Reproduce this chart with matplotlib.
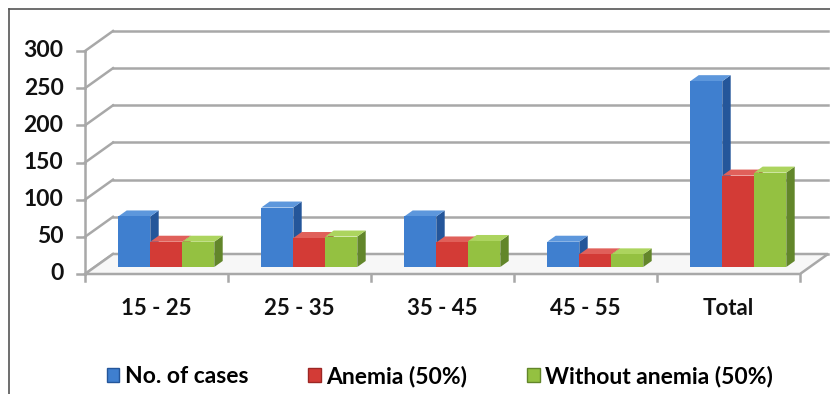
import matplotlib.pyplot as plt
from matplotlib.patches import Polygon, Patch
import numpy as np

plt.rcParams['font.family'] = ['Lato', 'DejaVu Sans']

categories = ['15 - 25', '25 - 35', '35 - 45', '45 - 55', 'Total']
series_names = ['No. of cases', 'Anemia (50%)', 'Without anemia (50%)']
cases = [68, 80, 68, 34, 250]
anemia = [34, 39, 33, 17, 123]
without_anemia = [34, 41, 35, 17, 127]
yticks = [0, 50, 100, 150, 200, 250, 300]

front_cols = ['#3f7fcf', '#d33b36', '#94c141']
side_cols = ['#24569a', '#9c2724', '#62862a']
top_cols = ['#5d97dc', '#e0605a', '#acd45e']

fig = plt.figure(figsize=(8.3, 3.94), dpi=100)
ax = fig.add_axes([85 / 830, 120 / 394, 715 / 830, 223 / 394])
ax.set_xlim(0, 5)
ax.set_ylim(0, 300)
ax.axis('off')

# oblique depth of the floor, in data units
ddx = 28 / 143
ddy = 20 / (223 / 300)
grid_col = '#a8a8a8'

# back wall gridlines and left side wall
for v in yticks:
    ax.plot([ddx, 5 + ddx], [v + ddy, v + ddy], color=grid_col, lw=1.8, clip_on=False, zorder=1)
    ax.plot([0, ddx], [v, v + ddy], color=grid_col, lw=1.8, clip_on=False, zorder=1)
    ax.plot([-0.055, 0], [v, v], color=grid_col, lw=1.8, clip_on=False, zorder=1)
    ax.text(-0.15, v, str(v), ha='right', va='center', fontsize=16.5, fontweight='bold', color='#111111')
ax.plot([0, 0], [0, 300], color=grid_col, lw=1.8, clip_on=False, zorder=1)

# floor
floor = Polygon([(0, 0), (5, 0), (5 + ddx, ddy), (ddx, ddy)], closed=True,
                facecolor='#f7f7f7', edgecolor=grid_col, lw=1.8, clip_on=False, zorder=1)
ax.add_patch(floor)
for i in range(6):
    ax.plot([i, i], [0, -9], color=grid_col, lw=1.8, clip_on=False, zorder=1)
for i, c in enumerate(categories):
    ax.text(i + 0.5, -47, c, ha='center', va='center', fontsize=16, fontweight='bold', color='#111111')

# bars
f = 0.35
base = f * ddy
bw = 32 / 143
bdx = 0.3 * ddx
bdy = 0.3 * ddy
data = [cases, anemia, without_anemia]
x = np.arange(len(categories))
for j, vals in enumerate(data):
    xs = x + 0.5 - 1.5 * bw + j * bw + f * ddx
    bars = ax.bar(xs, vals, width=bw, bottom=base, align='edge', color=front_cols[j],
                  edgecolor='none', clip_on=False)
    for i, b in enumerate(bars):
        zz = 2 + i * 10 + j * 3
        b.set_zorder(zz + 2)
        x0, x1 = xs[i], xs[i] + bw
        top = base + vals[i]
        side = Polygon([(x1, base), (x1 + bdx, base + bdy), (x1 + bdx, top + bdy), (x1, top)],
                       closed=True, facecolor=side_cols[j], edgecolor='none', clip_on=False, zorder=zz)
        topf = Polygon([(x0, top), (x1, top), (x1 + bdx, top + bdy), (x0 + bdx, top + bdy)],
                       closed=True, facecolor=top_cols[j], edgecolor='none', clip_on=False, zorder=zz + 1)
        ax.add_patch(side)
        ax.add_patch(topf)

handles = [Patch(facecolor=front_cols[k], edgecolor=side_cols[k]) for k in range(3)]
leg = fig.legend(handles, series_names, loc='center', bbox_to_anchor=(0.53, 0.045), ncol=3,
                 frameon=False, handlelength=0.55, handleheight=0.55, handletextpad=0.25,
                 columnspacing=2.6, prop={'size': 16.5, 'weight': 'bold'})

# outer frame (left and top edges)
fig.add_artist(plt.Line2D([9 / 830, 9 / 830], [0, 1 - 9 / 394], color='#555555', lw=1.2))
fig.add_artist(plt.Line2D([9 / 830, 1], [1 - 9 / 394, 1 - 9 / 394], color='#555555', lw=1.2))

fig.savefig('out.png', dpi=100)
